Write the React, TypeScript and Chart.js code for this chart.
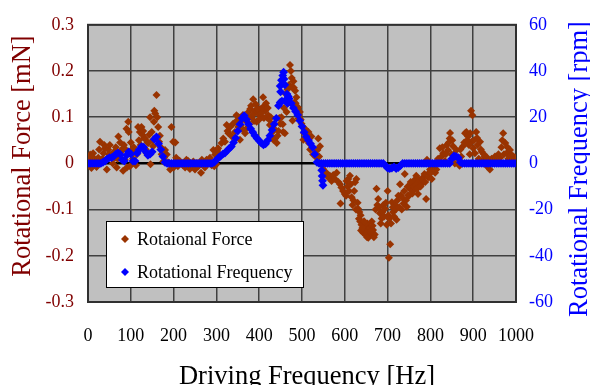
import React, { useEffect, useRef } from "react";
import { Chart, registerables } from "chart.js";

Chart.register(...registerables);

// ---------- DATA ----------
const seriesNames = ["Rotaional Force", "Rotational Frequency"];
const xTitle = "Driving Frequency [Hz]";
const yTitle = "Rotational Force [mN]";
const y2Title = "Rotational Frequency [rpm]";

const xTicks = [0, 100, 200, 300, 400, 500, 600, 700, 800, 900, 1000];
const forceTicks = [-0.3, -0.2, -0.1, 0, 0.1, 0.2, 0.3];
const rpmTicks = [-60, -40, -20, 0, 20, 40, 60];

const forceHz = [
  0, 3, 5, 8, 12, 16, 20, 24, 28, 32, 36, 40, 42, 44, 47, 51, 55, 58, 63, 67,
  71, 73, 75, 79, 82, 86, 90, 91, 94, 95, 98, 102, 105, 109, 112, 117, 121, 123, 125, 127,
  129, 131, 133, 137, 141, 145, 146, 149, 152, 155, 157, 160, 164, 166, 168, 172, 176, 180, 184, 188,
  192, 195, 199, 200, 204, 206, 210, 214, 218, 222, 227, 230, 234, 238, 242, 246, 250, 254, 258, 262,
  264, 266, 270, 273, 277, 281, 285, 289, 293, 295, 297, 300, 302, 304, 308, 312, 316, 320, 324, 326,
  328, 332, 336, 339, 343, 347, 351, 355, 358, 363, 367, 371, 375, 379, 382, 386, 390, 394, 398, 402,
  406, 409, 412, 414, 418, 421, 425, 429, 433, 437, 441, 445, 449, 452, 456, 460, 464, 467, 470, 472,
  476, 478, 480, 481, 482, 484, 487, 491, 492, 495, 499, 503, 507, 511, 515, 516, 519, 522, 526, 530,
  534, 536, 538, 540, 542, 545, 549, 553, 557, 561, 565, 569, 573, 577, 581, 585, 589, 590, 592, 596,
  600, 604, 608, 612, 616, 620, 624, 627, 631, 634, 636, 637, 639, 643, 647, 651, 653, 655, 659, 663,
  666, 670, 672, 674, 678, 682, 686, 690, 694, 698, 700, 702, 703, 706, 708, 710, 713, 717, 721, 725,
  729, 731, 733, 737, 740, 745, 748, 752, 756, 760, 764, 767, 771, 775, 779, 783, 786, 790, 792, 795,
  799, 803, 807, 811, 814, 818, 822, 826, 830, 834, 838, 841, 845, 846, 849, 853, 857, 861, 865, 868,
  872, 876, 881, 884, 888, 892, 893, 895, 896, 898, 900, 904, 907, 910, 913, 916, 920, 923, 927, 931,
  935, 939, 943, 947, 951, 955, 959, 963, 966, 970, 972, 975, 978, 982, 986, 990, 994, 998,
  345, 352, 357, 362, 366, 370, 374, 377, 381, 385, 388, 392, 396, 400, 404, 408, 411, 416, 420, 423,
  427, 431, 435, 443, 447, 455, 458, 462, 466, 474, 477, 485, 489, 493, 497, 501, 505, 509, 513,
  603, 606, 610, 614, 618, 622, 626, 630, 633, 638, 641, 645, 649, 652, 657, 661, 665, 668, 676, 680,
  684, 688, 692, 696, 704, 712, 715, 719, 723, 727, 735, 739, 743, 747, 750, 754, 758, 762, 766, 769,
  773, 777, 781, 788, 797, 801, 805,
  828, 836, 843, 851, 855, 870, 879, 886, 890, 902, 909, 918, 925, 933, 953, 961, 968, 980, 988,
  10, 26, 34, 38, 49, 61, 65, 69, 77, 84, 88, 100, 107, 114, 119, 135, 139, 143, 151, 154,
  162, 170, 178,
];

const forceVal = [
  -0.005, 0.01, 0.019, -0.01, 0.022, 0.005, -0.008, 0.012, 0.047, 0.003, 0.022, 0.033, 0.008, -0.013, 0.03, 0.04, 0.019, 0.0, 0.012, -0.009,
  0.058, 0.02, 0.045, 0.03, -0.016, 0.008, 0.075, -0.009, 0.09, 0.068, -0.006, 0.029, 0.01, 0.026, -0.004, 0.079, 0.068, 0.04, 0.079, 0.062,
  0.07, 0.055, 0.054, 0.022, 0.044, 0.1, -0.002, 0.068, 0.037, 0.114, 0.108, 0.148, 0.079, 0.047, 0.06, 0.02, 0.004, 0.029, 0.019, 0.002,
  -0.013, 0.079, 0.047, -0.009, 0.045, 0.012, -0.006, 0.006, 0.001, -0.004, -0.009, 0.008, 0.005, -0.012, -0.006, 0.004, -0.013, 0.001, -0.006, -0.002,
  -0.02, 0.008, 0.0, -0.009, 0.008, 0.001, 0.012, -0.004, 0.029, -0.006, 0.019, -0.002, 0.029, 0.033, 0.019, 0.044, 0.054, 0.047, 0.083, 0.07,
  0.065, 0.079, 0.058, 0.086, 0.068, 0.104, 0.079, 0.051, 0.093, 0.072, 0.065, 0.09, 0.111, 0.118, 0.1, 0.139, 0.114, 0.09, 0.107, 0.118,
  0.1, 0.143, 0.125, 0.114, 0.1, 0.104, 0.083, 0.086, 0.051, 0.054, 0.044, 0.07, 0.086, 0.1, 0.068, 0.065, 0.111, 0.13, 0.17, 0.213,
  0.185, 0.093, 0.178, 0.164, 0.132, 0.157, 0.143, 0.121, 0.097, 0.111, 0.086, 0.051, 0.075, 0.062, 0.068, 0.044, 0.03, 0.058, 0.019, 0.02,
  0.012, 0.029, 0.054, 0.015, 0.037, 0.0, -0.012, -0.02, -0.02, -0.03, -0.027, -0.038, -0.025, -0.034, -0.02, -0.04, -0.045, -0.087, -0.052, -0.06,
  -0.066, -0.038, -0.034, -0.027, -0.073, -0.08, -0.041, -0.034, -0.098, -0.105, -0.126, -0.112, -0.133, -0.15, -0.14, -0.147, -0.13, -0.161, -0.154, -0.126,
  -0.144, -0.154, -0.1, -0.055, -0.077, -0.108, -0.119, -0.09, -0.098, -0.133, -0.06, -0.112, -0.204, -0.175, -0.13, -0.084, -0.105, -0.09, -0.122, -0.07,
  -0.045, -0.069, -0.1, -0.087, -0.023, -0.094, -0.069, -0.055, -0.045, -0.059, -0.035, -0.027, -0.066, -0.04, -0.045, -0.03, -0.023, -0.077, 0.008, -0.03,
  -0.013, -0.034, -0.005, -0.02, -0.013, 0.01, 0.033, 0.015, 0.022, 0.005, 0.04, 0.029, 0.054, 0.066, 0.02, 0.037, 0.0, 0.029, 0.01, -0.005,
  0.015, 0.037, 0.065, 0.068, 0.058, 0.02, 0.065, 0.114, 0.047, 0.104, 0.033, 0.022, 0.068, 0.04, 0.01, 0.047, 0.025, 0.008, 0.015, -0.005,
  0.005, -0.013, 0.01, 0.001, 0.015, 0.005, 0.02, 0.012, 0.035, 0.065, 0.02, 0.044, 0.022, 0.01, 0.029, 0.008, 0.015, 0.012,
  0.09, 0.1, 0.082, 0.105, 0.095, 0.075, 0.098, 0.085, 0.125, 0.105, 0.092, 0.128, 0.118, 0.095, 0.108, 0.12, 0.098, 0.13, 0.12, 0.095,
  0.1, 0.068, 0.075, 0.06, 0.098, 0.085, 0.12, 0.15, 0.16, 0.2, 0.165, 0.13, 0.115, 0.105, 0.095, 0.08, 0.065, 0.07, 0.05,
  -0.07, -0.05, -0.06, -0.045, -0.09, -0.06, -0.1, -0.085, -0.12, -0.145, -0.14, -0.125, -0.155, -0.16, -0.14, -0.145, -0.135, -0.16, -0.09, -0.095,
  -0.13, -0.105, -0.115, -0.085, -0.12, -0.095, -0.115, -0.1, -0.08, -0.095, -0.075, -0.06, -0.08, -0.05, -0.07, -0.04, -0.065, -0.05, -0.045, -0.055,
  -0.035, -0.05, -0.035, -0.04, -0.02, -0.02, -0.01,
  0.035, 0.02, 0.045, 0.05, 0.02, 0.03, 0.045, 0.05, 0.04, 0.05, 0.055, 0.03, 0.02, 0.012, 0.01, 0.005, 0.05, 0.035, 0.02,
  0.015, 0.03, 0.01, 0.04, 0.02, 0.025, 0.035, 0.01, 0.025, 0.04, 0.03, 0.045, 0.035, 0.02, 0.05, 0.03, 0.045, 0.062, 0.05, 0.09,
  0.1, 0.035, 0.012,
];

const rpmHz = [
  0, 5, 10, 15, 20, 25, 30, 35, 40, 45, 50, 55, 60, 65, 70, 75, 80, 85, 90, 95,
  100, 105, 110, 115, 120, 125, 130, 135, 140, 145, 150, 155, 160, 165, 170, 175, 180, 185, 190, 195,
  200, 205, 210, 215, 220, 225, 230, 235, 240, 245, 250, 255, 260, 265, 270, 275, 280, 285, 290, 295,
  300, 305, 310, 315, 320, 325, 330, 335, 340, 345, 350, 355, 360, 365, 370, 375, 380, 385, 390, 395,
  400, 405, 410, 415, 420, 425, 430, 435, 440, 445, 450, 455, 460, 465, 470, 475, 480, 485, 490, 495,
  500, 505, 510, 515, 520, 525, 530, 535, 540, 545, 550, 555, 560, 565, 570, 575, 580, 585, 590, 595,
  600, 605, 610, 615, 620, 625, 630, 635, 640, 645, 650, 655, 660, 665, 670, 675, 680, 685, 690, 695,
  700, 705, 710, 715, 720, 725, 730, 735, 740, 745, 750, 755, 760, 765, 770, 775, 780, 785, 790, 795,
  800, 805, 810, 815, 820, 825, 830, 835, 840, 845, 850, 855, 860, 865, 870, 875, 880, 885, 890, 895,
  900, 905, 910, 915, 920, 925, 930, 935, 940, 945, 950, 955, 960, 965, 970, 975, 980, 985, 990, 995,
  1000,
  449, 449, 452, 453, 457, 458, 462, 466, 468, 546, 547, 548, 549,
];

const rpmVal = [
  0, 0, 0, 0, 0, 0, 0, 0.5, 1, 2, 2.5, 2.5, 3, 4, 4.5, 4, 1.5, 1, 3.5, 5,
  4, 1, 1, 4.5, 6, 7.3, 7, 5, 3.5, 4, 5, 10.5, 11.5, 8.5, 6, 3, 0.5, 0, 0, 0,
  0, 0, 0, 0, 0, 0, 0, 0, 0, 0, 0, 0, 0, 0, 0, 0, 0, 0, 0, 0.5,
  1.5, 2.5, 3.2, 4, 4.5, 5.5, 6.5, 7.3, 9, 11, 14, 17, 19.5, 20.7, 19, 17, 15, 13.5, 12, 10.8,
  9.8, 8.8, 8, 8.5, 10, 12, 14.5, 17, 19.5, 25, 31, 38, 34, 30, 28, 26, 24, 22.5, 21, 18.5,
  16, 13.5, 11.5, 10, 8.5, 7, 4, 0.5, 0, 0, 0, 0, 0, 0, 0, 0, 0, 0, 0, 0,
  0, 0, 0, 0, 0, 0, 0, 0, 0, 0, 0, 0, 0, 0, 0, 0, 0, 0, 0, -1,
  -2, -2.3, -2, -1.5, -2.2, -1.8, -1, 0, 0, 0, 0, 0, 0, 0, 0, 0, 0, 0, 0, 0,
  0, 0, 0, 0, 0, 0, 0, 0, 0, 0, 2, 3.2, 3, 2.5, 0.5, 0, 0, 0, 0, 0,
  0, 0, 0, 0, 0, 0, 0, 0, 0, 0, 0, 0, 0, 0, 0, 0, 0, 0, 0, 0,
  0,
  33.5, 26.4, 36, 27, 39.5, 36.5, 27.5, 26, 29, -3, -5.5, -7.5, -9.5,
];

// ---------- STYLE ----------
const FONT = '"Liberation Serif", "Times New Roman", Times, serif';
const BROWN = "#993300";
const MAROON = "#800000";
const BLUE = "#0000ff";
const PLOT_BG = "#c0c0c0";

const fmtForce = (v: number) => {
  const r = Math.round(v * 10) / 10;
  return r === 0 ? "0" : String(r);
};

function drawDiamond(ctx: CanvasRenderingContext2D, x: number, y: number, r: number, color: string) {
  ctx.beginPath();
  ctx.moveTo(x, y - r);
  ctx.lineTo(x + r, y);
  ctx.lineTo(x, y + r);
  ctx.lineTo(x - r, y);
  ctx.closePath();
  ctx.fillStyle = color;
  ctx.fill();
}

const decorPlugin = {
  id: "decor",
  beforeDraw(chart: any) {
    const { ctx, chartArea } = chart;
    ctx.save();
    ctx.fillStyle = PLOT_BG;
    ctx.fillRect(chartArea.left, chartArea.top, chartArea.right - chartArea.left, chartArea.bottom - chartArea.top);
    ctx.restore();
  },
  beforeDatasetsDraw(chart: any) {
    const { ctx, chartArea } = chart;
    ctx.save();
    ctx.strokeStyle = "#303030";
    ctx.lineWidth = 2;
    ctx.strokeRect(chartArea.left, chartArea.top, chartArea.right - chartArea.left, chartArea.bottom - chartArea.top);
    ctx.restore();
  },
  afterDraw(chart: any) {
    const { ctx } = chart;
    ctx.save();
    // Legend box
    const lx = 106, ly = 221, lw = 197, lh = 66;
    ctx.fillStyle = "#ffffff";
    ctx.fillRect(lx, ly, lw, lh);
    ctx.strokeStyle = "#000000";
    ctx.lineWidth = 1;
    ctx.strokeRect(lx + 0.5, ly + 0.5, lw, lh);
    drawDiamond(ctx, 125, 239, 4, BROWN);
    drawDiamond(ctx, 125, 272, 4, BLUE);
    ctx.fillStyle = "#000000";
    ctx.font = `18px ${FONT}`;
    ctx.textAlign = "left";
    ctx.textBaseline = "middle";
    ctx.fillText(seriesNames[0], 137, 240);
    ctx.fillText(seriesNames[1], 137, 273);

    // Axis titles
    ctx.font = `26.5px ${FONT}`;
    ctx.textAlign = "center";
    ctx.textBaseline = "alphabetic";
    ctx.fillStyle = "#000000";
    ctx.fillText(xTitle, 307, 384);

    ctx.save();
    ctx.translate(30, 156);
    ctx.rotate(-Math.PI / 2);
    ctx.fillStyle = MAROON;
    ctx.fillText(yTitle, 0, 0);
    ctx.restore();

    ctx.save();
    ctx.translate(587, 169);
    ctx.rotate(-Math.PI / 2);
    ctx.fillStyle = BLUE;
    ctx.fillText(y2Title, 0, 0);
    ctx.restore();

    ctx.restore();
  },
};

export default function App() {
  const canvasRef = useRef<HTMLCanvasElement | null>(null);

  useEffect(() => {
    const canvas = canvasRef.current;
    if (!canvas) return;
    const forceData = forceHz.map((x, i) => ({ x, y: forceVal[i] }));
    const rpmData = rpmHz.map((x, i) => ({ x, y: rpmVal[i] }));

    const chart = new Chart(canvas, {
      type: "scatter",
      data: {
        datasets: [
          {
            label: seriesNames[0],
            data: forceData,
            yAxisID: "y",
            pointStyle: "rectRot",
            pointRadius: 4,
            backgroundColor: BROWN,
            borderColor: BROWN,
            borderWidth: 0,
            order: 1,
          },
          {
            label: seriesNames[1],
            data: rpmData,
            yAxisID: "y1",
            pointStyle: "rectRot",
            pointRadius: 4.4,
            backgroundColor: BLUE,
            borderColor: BLUE,
            borderWidth: 0,
            order: 0,
          },
        ],
      },
      options: {
        animation: false,
        responsive: false,
        maintainAspectRatio: false,
        events: [],
        layout: { padding: { top: 19, left: 0, right: 0, bottom: 0 } },
        plugins: {
          legend: { display: false },
          tooltip: { enabled: false },
        },
        scales: {
          x: {
            type: "linear",
            position: "bottom",
            min: 0,
            max: 1000,
            afterBuildTicks: (s: any) => {
              s.ticks = xTicks.map((v) => ({ value: v }));
            },
            ticks: {
              color: "#000000",
              font: { family: FONT, size: 18 },
              padding: 23,
              maxRotation: 0,
              autoSkip: false,
              callback: (v: any) => String(v),
            },
            grid: { color: "#404040", lineWidth: 1.5, drawTicks: false },
            border: { display: false },
            afterFit: (s: any) => {
              s.height = 83;
            },
          },
          y: {
            type: "linear",
            position: "left",
            min: -0.3,
            max: 0.3,
            afterBuildTicks: (s: any) => {
              s.ticks = forceTicks.map((v) => ({ value: v }));
            },
            ticks: {
              color: MAROON,
              font: { family: FONT, size: 18 },
              padding: 14,
              callback: (v: any) => fmtForce(Number(v)),
            },
            grid: {
              color: (c: any) => (c.tick && c.tick.value === 0 ? "#000000" : "#404040"),
              lineWidth: (c: any) => (c.tick && c.tick.value === 0 ? 2.5 : 1.5),
              drawTicks: false,
            },
            border: { display: false },
            afterFit: (s: any) => {
              s.width = 88;
            },
          },
          y1: {
            type: "linear",
            position: "right",
            min: -60,
            max: 60,
            afterBuildTicks: (s: any) => {
              s.ticks = rpmTicks.map((v) => ({ value: v }));
            },
            ticks: {
              color: BLUE,
              font: { family: FONT, size: 18 },
              padding: 13,
              callback: (v: any) => String(v),
            },
            grid: { display: false, drawTicks: false },
            border: { display: false },
            afterFit: (s: any) => {
              s.width = 74;
            },
          },
        },
      },
      plugins: [decorPlugin],
    } as any);

    return () => chart.destroy();
  }, []);

  return (
    <div style={{ position: "absolute", left: 0, top: 0, width: 590, height: 385, background: "#ffffff" }}>
      <canvas ref={canvasRef} width={590} height={385} style={{ display: "block", width: 590, height: 385 }} />
    </div>
  );
}
